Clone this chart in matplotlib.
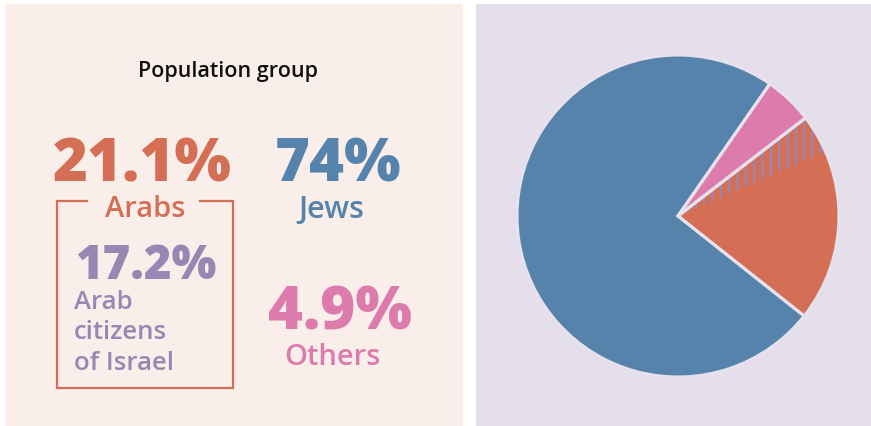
import matplotlib
matplotlib.use("Agg")
import matplotlib.pyplot as plt
from matplotlib.patches import Rectangle

# population shares (%)
groups = ["Arabs", "Others", "Jews"]
shares = [21.1, 4.9, 74.0]
arab_citizens = 17.2
colors = ["#d46f55", "#dd7cac", "#5683ab"]
purple = "#9a86b2"

plt.rcParams["font.family"] = ["Open Sans", "DejaVu Sans"]
plt.rcParams["hatch.linewidth"] = 1.6

W, H = 871, 427
fig = plt.figure(figsize=(W / 100, H / 100), dpi=100)
fig.patch.set_facecolor("white")

# pixel axes for the background panels and text
ax = fig.add_axes([0, 0, 1, 1])
ax.set_xlim(0, W)
ax.set_ylim(H, 0)
ax.axis("off")

ax.add_patch(Rectangle((5, 5), 458, 430, facecolor="#f9eee9", edgecolor="none"))
ax.add_patch(Rectangle((476, 5), 400, 430, facecolor="#e4dfea", edgecolor="none"))

ax.text(228, 77, "Population group", ha="center", va="baseline",
        fontsize=15.5, fontweight="semibold", color="#111111")

big = 43
bw = 800
lab = 21
lw_lab = "semibold"
ax.text(142, 182, f"{shares[0]:.1f}%", ha="center", va="baseline",
        fontsize=big, fontweight=bw, color=colors[0])
ax.text(145, 217, groups[0], ha="center", va="baseline", fontsize=lab,
        fontweight=lw_lab, color=colors[0])

ax.text(338, 182, f"{shares[2]:.0f}%", ha="center", va="baseline",
        fontsize=big, fontweight=bw, color=colors[2])
ax.text(331, 218, groups[2], ha="center", va="baseline", fontsize=lab + 1,
        fontweight=lw_lab, color=colors[2])

ax.text(340, 330, f"{shares[1]:.1f}%", ha="center", va="baseline",
        fontsize=big, fontweight=bw, color=colors[1])
ax.text(332, 365, groups[1], ha="center", va="baseline", fontsize=lab,
        fontweight=lw_lab, color=colors[1])

ax.text(146, 279, f"{arab_citizens:.1f}%", ha="center", va="baseline",
        fontsize=34, fontweight=bw, color=purple)
for i, line in enumerate(["Arab", "citizens", "of Israel"]):
    ax.text(74, 309 + 30.5 * i, line, ha="left", va="baseline", fontsize=18.5,
            fontweight=lw_lab, color=purple)

# bracket box around the Arab sub-group
lw = 1.6
ax.plot([87, 57, 57, 233, 233, 200], [202, 202, 389, 389, 202, 202],
        color=colors[0], lw=lw, solid_joinstyle="miter")

# pie
cx, cy, R = 678, 217, 161
pad = 1.05
pax = fig.add_axes([(cx - R * pad) / W, (H - cy - R * pad) / H,
                    2 * R * pad / W, 2 * R * pad / H])
start = -38.4
sep = "#e6e1ec"
pax.pie(shares, colors=colors, startangle=start, counterclock=True,
        wedgeprops=dict(linewidth=0))

# hatched part of the Arab slice: Arabs who are not citizens
rest = shares[0] - arab_citizens
hw, _ = pax.pie([arab_citizens, rest, 100 - shares[0]], startangle=start,
                counterclock=True, colors=["none"] * 3,
                wedgeprops=dict(linewidth=0))
hw[1].set_hatch("||")
hw[1].set_edgecolor(purple)
hw[1].set_linewidth(0)
hw[0].set_visible(False)
hw[2].set_visible(False)

# separators between slices
pax.pie(shares, startangle=start, counterclock=True, colors=["none"] * 3,
        wedgeprops=dict(linewidth=2.2, edgecolor=sep))
pax.set_xlim(-pad, pad)
pax.set_ylim(-pad, pad)
pax.set_aspect("equal")
pax.axis("off")

fig.savefig("out.png", dpi=100)
